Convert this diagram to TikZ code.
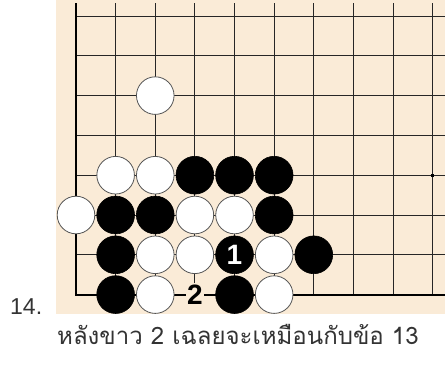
\documentclass[tikz,border=0pt]{standalone}
\usepackage{fontspec}
\setmainfont{Liberation Sans}
\newfontfamily\thaifont[Script=Thai]{Loma}
\definecolor{board}{HTML}{FAEBD7}
\definecolor{stoneedge}{HTML}{555555}
\begin{document}
\begin{tikzpicture}[x=1pt,y=-1pt,
  gridline/.style={line width=0.9pt,black!85},
  edgeline/.style={line width=2pt,black},
  bstone/.style={circle,fill=black,draw=black,line width=0.6pt,minimum size=37.8pt,inner sep=0pt},
  wstone/.style={circle,fill=white,draw=stoneedge,line width=0.8pt,minimum size=37.6pt,inner sep=0pt},
  movelbl/.style={font=\bfseries\fontsize{28}{28}\selectfont,inner sep=0pt}]
\useasboundingbox (0,0) rectangle (445,365);
\fill[board] (56,0) rectangle (445,314);
% grid
\foreach \i in {1,...,9} \draw[gridline] ({76+39.63*\i},3.3) -- ({76+39.63*\i},294.7);
\foreach \j in {0,...,6} \draw[gridline] (76,{16+39.8*\j}) -- (445,{16+39.8*\j});
\draw[edgeline] (76,3.3) -- (76,294.7) -- (446,294.7);
\node[fill=black,minimum size=3pt,inner sep=0pt] (star) at (432.7,175.3) {};
% stones
\foreach \c/\r/\s/\n in {2/2/w/a,
  1/4/w/b, 2/4/w/c, 3/4/b/d, 4/4/b/e, 5/4/b/f,
  0/5/w/g, 1/5/b/h, 2/5/b/i, 3/5/w/j, 4/5/w/k, 5/5/b/l,
  1/6/b/m, 2/6/w/n, 3/6/w/o, 5/6/w/p, 6/6/b/q,
  1/7/b/r, 2/7/w/s, 4/7/b/t, 5/7/w/u}
  \node[\s stone] (st\n) at ({76+39.63*\c},{16+39.8*\r}) {};
\node[bstone,movelbl,text=white] (m1) at ({76+39.63*4},{16+39.8*6}) {1};
\node[movelbl,fill=board,inner xsep=1pt,inner ysep=1.5pt] (m2) at ({76+39.63*3},{16+39.8*7}) {2};
% captions
\node[anchor=base west,inner sep=0pt,font=\fontsize{23}{23}\selectfont,text=black!80] (num) at (10,314) {14.};
\node[anchor=base west,inner sep=0pt,font=\thaifont\fontsize{24}{24}\selectfont,text=black!80] (cap) at (57,344) {หลังขาว 2 เฉลยจะเหมือนกับข้อ 13};
\end{tikzpicture}
\end{document}
